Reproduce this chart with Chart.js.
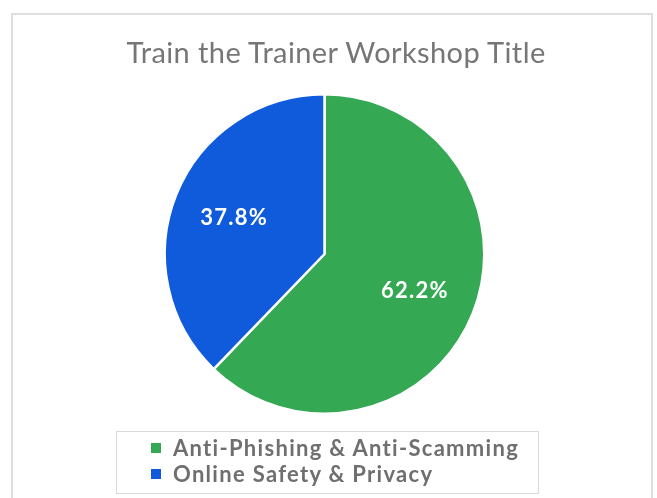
<!DOCTYPE html>
<html>
<head>
<meta charset="utf-8">
<script src="https://cdn.jsdelivr.net/npm/chart.js@4.4.0/dist/chart.umd.min.js"></script>
<style>
    html, body { margin: 0; padding: 0; background: #fff; }
    body { width: 657px; height: 498px; overflow: hidden; position: relative; font-family: Lato, "Open Sans", sans-serif; }
    #frame { position: absolute; left: 11px; top: 13px; width: 642px; height: 500px; border: 2px solid #dedede; box-sizing: border-box; }
    #wrap { position: absolute; left: 0; top: 0; width: 657px; height: 498px; }
    #title { position: absolute; left: 36px; top: 35px; width: 600px; text-align: center; font-size: 29px; line-height: 34px; letter-spacing: 0.4px; color: #767676; white-space: nowrap; }
    #legend { position: absolute; left: 116px; top: 431px; width: 423px; height: 63px; border: 1.5px solid #d9d9d9; box-sizing: border-box; padding-top: 3px; }
    .item { height: 26px; line-height: 26px; font-size: 22px; font-weight: bold; color: #6f6f6f; white-space: nowrap; letter-spacing: 1.3px; position: relative; padding-left: 56px; }
    .item span { position: absolute; left: 34px; top: 8px; width: 10px; height: 10px; }
</style>
</head>
<body>
<div id="frame"></div>
<div id="wrap"><canvas id="pieChart"></canvas></div>
<div id="title"></div>
<div id="legend"></div>
<script>
// Chart data
const chartTitle = 'Train the Trainer Workshop Title';
const categories = ['Anti-Phishing & Anti-Scamming', 'Online Safety & Privacy'];
const shares = [62.2, 37.8];
const sliceColors = ['#34a853', '#0f5bdc'];

document.getElementById('title').textContent = chartTitle;

// Legend in its own box, like the original
const legendEl = document.getElementById('legend');
categories.forEach((name, i) => {
    const row = document.createElement('div');
    row.className = 'item';
    row.innerHTML = `<span style="background:${sliceColors[i]}"></span>`;
    row.appendChild(document.createTextNode(name));
    legendEl.appendChild(row);
});

// Percent labels inside the slices
const sliceLabels = {
    id: 'sliceLabels',
    afterDatasetsDraw(chart) {
        const ctx = chart.ctx;
        const meta = chart.getDatasetMeta(0);
        ctx.save();
        ctx.font = 'bold 22px Lato, "Open Sans", sans-serif';
        ctx.fillStyle = '#ffffff';
        ctx.textAlign = 'center';
        ctx.textBaseline = 'middle';
        ctx.letterSpacing = '1.2px';
        meta.data.forEach((arc, i) => {
            const p = arc.getProps(['x', 'y', 'startAngle', 'endAngle', 'outerRadius'], true);
            const mid = (p.startAngle + p.endAngle) / 2;
            const r = p.outerRadius * 0.61;
            const value = chart.data.datasets[0].data[i];
            ctx.fillText(value.toFixed(1) + '%', p.x + Math.cos(mid) * r, p.y + Math.sin(mid) * r);
        });
        ctx.restore();
    }
};

new Chart(document.getElementById('pieChart'), {
    type: 'pie',
    data: {
        labels: categories,
        datasets: [{
            data: shares,
            backgroundColor: sliceColors,
            borderColor: '#ffffff',
            borderWidth: 2.5
        }]
    },
    options: {
        responsive: true,
        maintainAspectRatio: false,
        animation: false,
        layout: {
            padding: { left: 163, right: 171, top: 93, bottom: 83 }
        },
        plugins: {
            legend: { display: false },
            title: { display: false },
            tooltip: { enabled: false }
        }
    },
    plugins: [sliceLabels]
});
</script>
</body>
</html>
